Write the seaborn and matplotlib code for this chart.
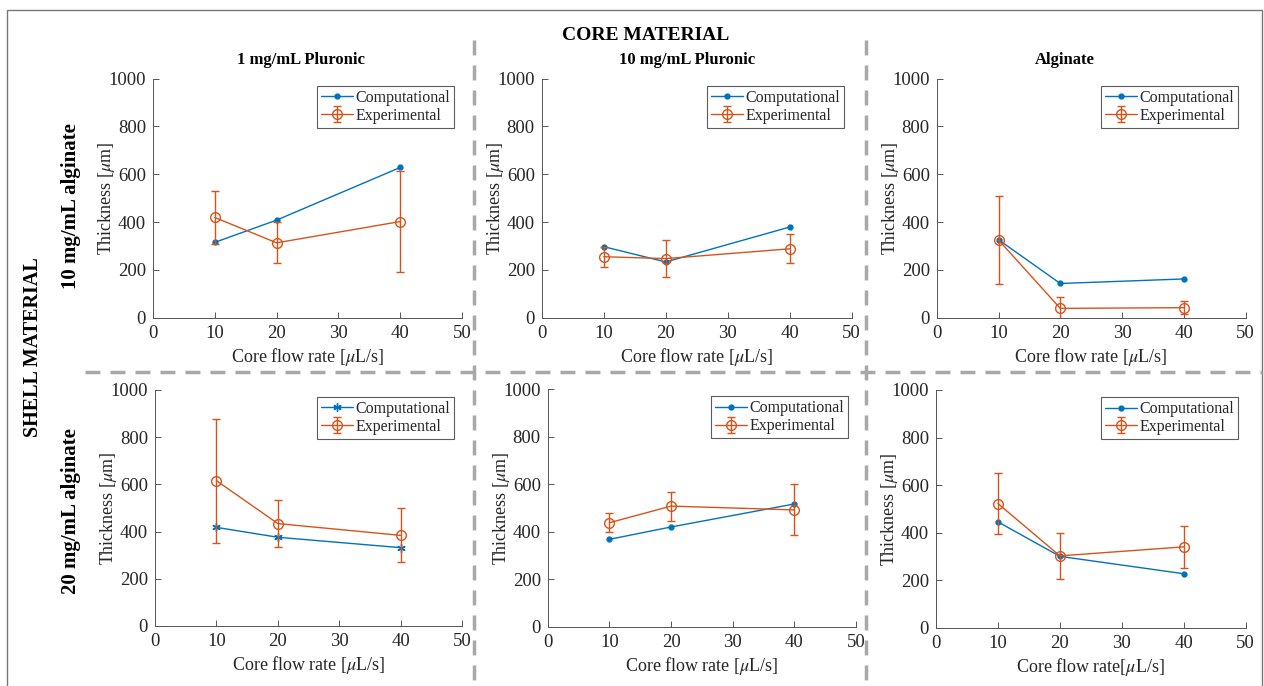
import numpy as np
import pandas as pd
import matplotlib
matplotlib.use("Agg")
import matplotlib.pyplot as plt
import seaborn as sns
from matplotlib.lines import Line2D
from matplotlib.patches import Rectangle
from matplotlib.legend_handler import HandlerTuple

# ---------------- data ----------------
flow = [10, 20, 40]

comp_p1 = [315, 408, 628]
exp_p1 = [419, 313, 402]
err_p1 = [111, 86, 213]

comp_p2 = [297, 233, 379]
exp_p2 = [255, 247, 288]
err_p2 = [42, 78, 61]

comp_p3 = [326, 143, 162]
exp_p3 = [325, 39, 42]
err_p3 = [183, 48, 27]

comp_p4 = [418, 376, 332]
exp_p4 = [616, 434, 384]
err_p4 = [263, 99, 114]

comp_p5 = [368, 420, 517]
exp_p5 = [438, 508, 492]
err_p5 = [40, 61, 107]

comp_p6 = [446, 301, 228]
exp_p6 = [523, 303, 341]
err_p6 = [128, 96, 88]

core_titles = ["1 mg/mL Pluronic", "10 mg/mL Pluronic", "Alginate"]
shell_titles = ["10 mg/mL alginate", "20 mg/mL alginate"]
series_labels = ["Computational", "Experimental"]

# ---------------- style ----------------
sns.set_style("ticks")
plt.rcParams["font.family"] = ["Liberation Serif", "DejaVu Serif"]
plt.rcParams["mathtext.fontset"] = "stix"

BLUE = "#0072BD"
ORANGE = "#D95319"
DARK = "#262626"
GRAY = "#a8a8a8"

W, H = 1264, 686
fig = plt.figure(figsize=(W / 100, H / 100), dpi=100)


def rect(x0, x1, ytop, ybot):
    return [x0 / W, 1 - ybot / H, (x1 - x0) / W, (ybot - ytop) / H]


panels = [
    (rect(153, 462, 78.5, 317.7), comp_p1, exp_p1, err_p1, ".", "Core flow rate [$\\mu$L/s]"),
    (rect(541.7, 851.7, 78.5, 317.7), comp_p2, exp_p2, err_p2, ".", "Core flow rate [$\\mu$L/s]"),
    (rect(936.7, 1245.7, 78.5, 317.7), comp_p3, exp_p3, err_p3, ".", "Core flow rate [$\\mu$L/s]"),
    (rect(155, 462, 390, 626), comp_p4, exp_p4, err_p4, (6, 2, 0), "Core flow rate [$\\mu$L/s]"),
    (rect(547.7, 856, 389.3, 626.7), comp_p5, exp_p5, err_p5, ".", "Core flow rate [$\\mu$L/s]"),
    (rect(936, 1245.7, 390, 628), comp_p6, exp_p6, err_p6, ".", "Core flow rate[$\\mu$L/s]"),
]

for r, comp, expv, err, cmark, xlab in panels:
    ax = fig.add_axes(r)
    ax.set_facecolor("white")
    df = pd.DataFrame({"flow": flow, "comp": comp, "exp": expv})
    msize = 7 if cmark == "." else 6
    sns.lineplot(data=df, x="flow", y="comp", ax=ax, color=BLUE, marker=cmark,
                 markersize=msize, markeredgecolor=BLUE, markeredgewidth=1,
                 linewidth=1, errorbar=None, legend=False)
    comp_line = ax.lines[-1]
    ebar = ax.errorbar(flow, expv, yerr=err, fmt="none", ecolor=ORANGE,
                       elinewidth=1, capsize=3, capthick=1)
    sns.lineplot(data=df, x="flow", y="exp", ax=ax, color=ORANGE, marker="o",
                 markersize=7, markerfacecolor="none", markeredgecolor=ORANGE,
                 markeredgewidth=1, linewidth=1, errorbar=None, legend=False)
    exp_line = ax.lines[-1]

    ax.set_xlim(0, 50)
    ax.set_ylim(0, 1000)
    ax.set_xticks([0, 10, 20, 30, 40, 50])
    ax.set_yticks([0, 200, 400, 600, 800, 1000])
    sns.despine(ax=ax)
    for s in ("left", "bottom"):
        ax.spines[s].set_color("#555555")
        ax.spines[s].set_linewidth(0.7)
    ax.tick_params(direction="in", length=4, width=0.7, colors="#555555",
                   labelcolor=DARK, labelsize=13.5, pad=5)
    ax.set_xlabel(xlab, fontsize=13, color=DARK, labelpad=3)
    ax.set_ylabel("Thickness [$\\mu$m]", fontsize=13, color=DARK, labelpad=-6)

    leg = ax.legend([comp_line, (exp_line, ebar)], series_labels,
                    handler_map={tuple: HandlerTuple(ndivide=1)},
                    loc="upper right", bbox_to_anchor=(0.975, 0.97),
                    fontsize=11.5, frameon=True, fancybox=False,
                    handlelength=2.0, handletextpad=0.15, labelspacing=0.12,
                    borderpad=0.25, borderaxespad=0)
    leg.get_frame().set_edgecolor("#333333")
    leg.get_frame().set_linewidth(0.8)
    for t in leg.get_texts():
        t.set_color(DARK)

# ---------------- annotations ----------------
fig.text(646 / W, 1 - 35 / H, "CORE MATERIAL", ha="center", va="center",
         fontsize=14, fontweight="bold", color="black")
for xc, t in zip([301, 687, 1065], core_titles):
    fig.text(xc / W, 1 - 60 / H, t, ha="center", va="center", fontsize=12,
             fontweight="bold", color="black")
fig.text(33 / W, 1 - 347 / H, "SHELL MATERIAL", ha="center", va="center",
         rotation=90, fontsize=14.5, fontweight="bold", color="black")
for yc, t in zip([206, 511], shell_titles):
    fig.text(71 / W, 1 - yc / H, t, ha="center", va="center", rotation=90,
             fontsize=15, fontweight="bold", color="black")

# dashed separators
for xv in (474, 866):
    ln = Line2D([xv / W, xv / W], [1 - 40 / H, 0], transform=fig.transFigure,
                color=GRAY, linewidth=2.5, linestyle=(0, (4.3, 2.9)))
    fig.add_artist(ln)
ln = Line2D([85 / W, 1262 / W], [1 - 371.5 / H, 1 - 371.5 / H],
            transform=fig.transFigure, color=GRAY, linewidth=2.5,
            linestyle=(0, (4.3, 2.9)))
fig.add_artist(ln)

# outer frame
fig.add_artist(Rectangle((7 / W, -0.01), (1262 - 7) / W, 1.01 - 10 / H,
                         transform=fig.transFigure, fill=False,
                         edgecolor="#777777", linewidth=1))

fig.savefig("out.png", dpi=100)
